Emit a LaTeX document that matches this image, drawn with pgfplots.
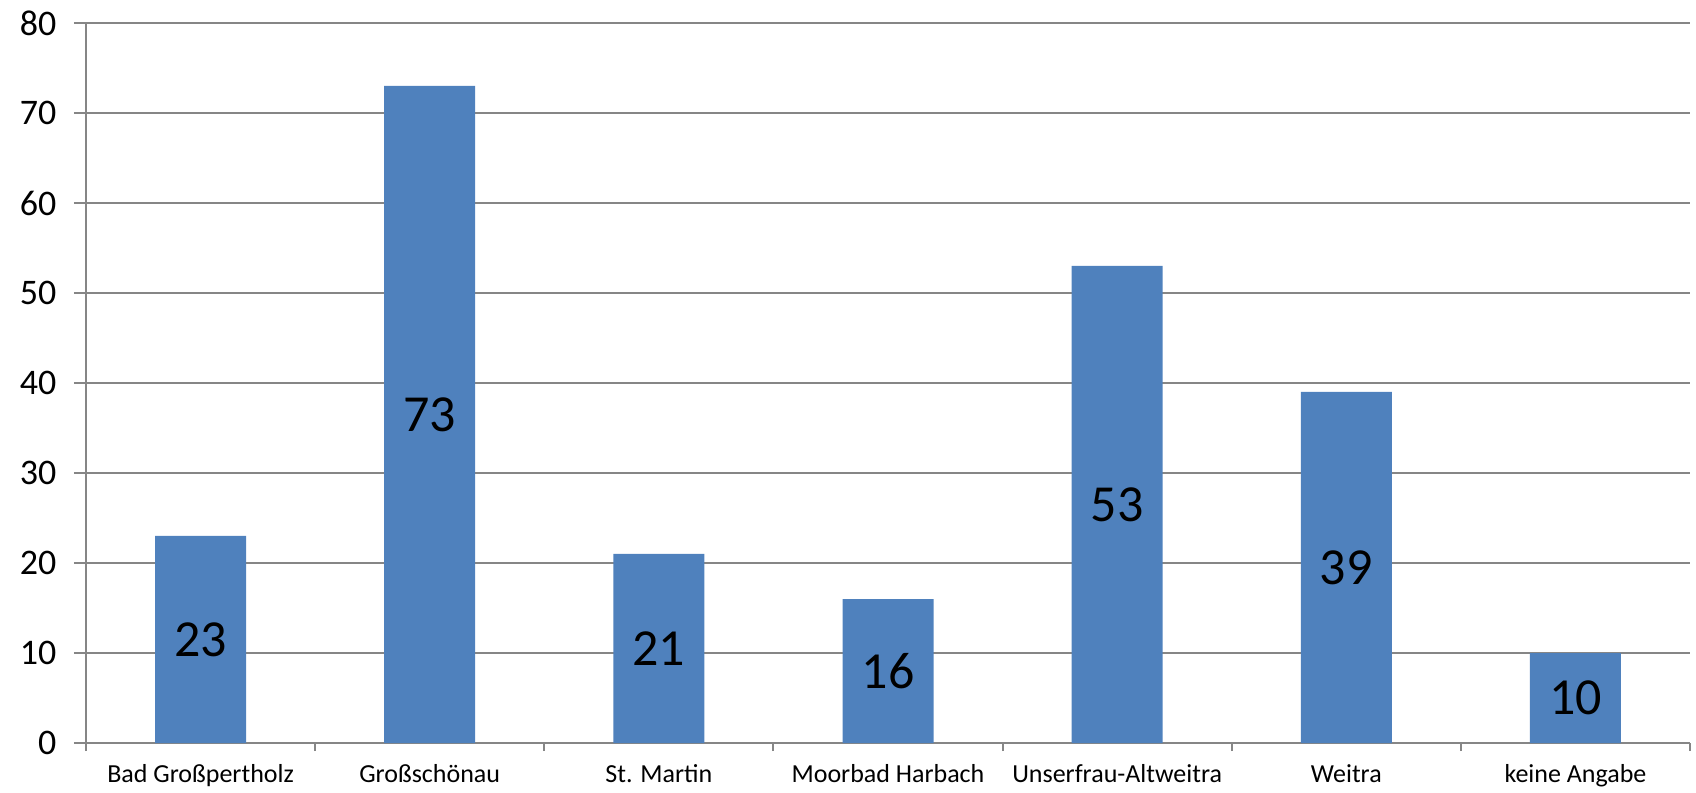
\documentclass[border=0pt]{standalone}
\usepackage{fontspec}
\setmainfont{Carlito}
\usepackage{pgfplots}
\pgfplotsset{compat=1.18}
\definecolor{barblue}{RGB}{79,129,189}
\definecolor{gridgray}{RGB}{134,134,134}

\begin{document}
\begin{tikzpicture}
\useasboundingbox (-86pt,-49pt) rectangle (1610pt,743pt);
\begin{axis}[
    at={(0pt,0pt)}, anchor=south west,
    scale only axis,
    width=1604pt, height=720pt,
    ybar, bar width=91pt,
    xmin=-0.5, xmax=6.5,
    ymin=0, ymax=80,
    ytick={0,10,...,80},
    xtick={0,...,6},
    xticklabels={Bad Großpertholz, Großschönau, St. Martin, Moorbad Harbach, Unserfrau-Altweitra, Weitra, keine Angabe},
    minor xtick={-0.5,0.5,...,6.5},
    axis x line*=bottom, axis y line*=left,
    axis line style={gridgray, line width=2pt, -},
    tick style={gridgray, line width=2pt},
    tick align=outside,
    major x tick style={draw=none},
    minor tick length=8pt,
    major tick length=12pt,
    ymajorgrids,
    grid style={gridgray, line width=2pt},
    /pgf/number format/assume math mode=true,
    yticklabel style={font=\fontsize{36}{43}\selectfont, xshift=-14pt},
    xticklabel style={font=\fontsize{26}{31}\selectfont, yshift=-6pt},
    nodes near coords,
    visualization depends on=y \as \rawy,
    every node near coord/.append style={font=\fontsize{52}{62}\selectfont, anchor=center, black,
        shift={(axis direction cs:0,-\rawy/2)}},
]
\addplot[fill=barblue, draw=none] coordinates {(0,23) (1,73) (2,21) (3,16) (4,53) (5,39) (6,10)};
\end{axis}
\end{tikzpicture}
\end{document}
